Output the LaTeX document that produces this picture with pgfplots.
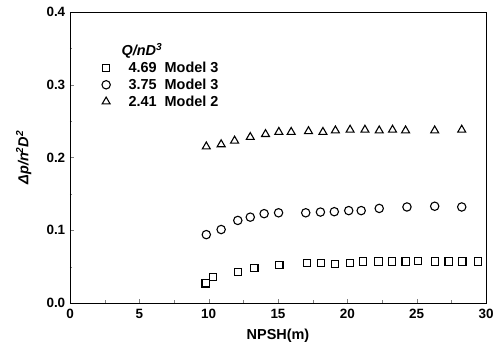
\documentclass[border=0pt]{standalone}
\usepackage{pgfplots}
\pgfplotsset{compat=1.18}
\usepackage{fontspec}
\setmainfont{Liberation Sans}
\begin{document}
\begin{tikzpicture}
\begin{axis}[
  scale only axis,
  width=416bp, height=291bp,
  xmin=0, xmax=30, ymin=0, ymax=0.4,
  xtick={0,5,...,30}, ytick={0,0.1,...,0.4},
  minor x tick num=1, minor y tick num=1,
  tick align=inside,
  major tick length=4bp, minor tick length=2.5bp,
  xtick pos=bottom, ytick pos=left,
  line width=0.9pt,
  /pgf/number format/assume math mode=true,
  yticklabel style={/pgf/number format/fixed,/pgf/number format/fixed zerofill,/pgf/number format/precision=1, xshift=-1bp},
  xticklabel style={yshift=-2.5bp},
  ticklabel style={font=\fontsize{13.5}{15}\selectfont\bfseries},
  xlabel={NPSH(m)},
  ylabel={\itshape Δp/n\textsuperscript{2}D\textsuperscript{2}},
  label style={font=\fontsize{14.5}{16}\selectfont\bfseries},
  xlabel style={yshift=-3bp},
  ylabel style={yshift=8bp},
  every axis plot/.append style={only marks, black, mark options={solid, fill=none, line width=1.1pt}},
  legend style={draw=none, fill=none, at={(axis cs:1.95,0.362)}, anchor=north west,
    font=\fontsize{14.5}{16}\selectfont\bfseries, row sep=2.5bp,
    nodes={inner sep=1.2bp},
    /tikz/every odd column/.append style={column sep=17bp}},
  legend image code/.code={\draw[mark repeat=1] plot coordinates {(0.2cm,0cm)};},
  legend cell align=left,
]
\addlegendimage{empty legend}
\addlegendentry{\hspace{-7bp}\itshape Q/nD\textsuperscript{3}}
\addplot[mark=square, mark size=3.6bp] coordinates {
(9.78,0.027) (10.3,0.036) (12.1,0.043) (13.3,0.048) (15.1,0.052)
(17.07,0.055) (18.1,0.055) (19.1,0.054) (20.2,0.055) (21.15,0.057)
(22.25,0.057) (23.2,0.057) (24.2,0.057) (25.1,0.058) (26.3,0.057)
(27.3,0.057) (28.3,0.057) (29.4,0.057)};
\addlegendentry{4.69\ \ Model 3}
\addplot[mark=o, mark size=4.2bp] coordinates {
(9.83,0.094) (10.9,0.101) (12.1,0.1135) (13.0,0.118) (14.0,0.1228)
(15.04,0.124) (17.0,0.124) (18.06,0.125) (19.06,0.1255) (20.1,0.127)
(21.0,0.127) (22.3,0.130) (24.3,0.132) (26.3,0.133) (28.25,0.132)};
\addlegendentry{3.75\ \ Model 3}
\addplot[mark=triangle, mark size=4.6bp] coordinates {
(9.83,0.215) (10.9,0.218) (11.87,0.223) (13.0,0.228) (14.1,0.232)
(15.06,0.235) (15.95,0.235) (17.2,0.236) (18.24,0.235) (19.14,0.237)
(20.2,0.238) (21.27,0.238) (22.3,0.237) (23.26,0.238) (24.2,0.237)
(26.3,0.237) (28.25,0.238)};
\addlegendentry{2.41\ \ Model 2}
\end{axis}
\path ([xshift=-70bp,yshift=-49bp]current axis.south west) rectangle ([xshift=16bp,yshift=12bp]current axis.north east);
\end{tikzpicture}
\end{document}
